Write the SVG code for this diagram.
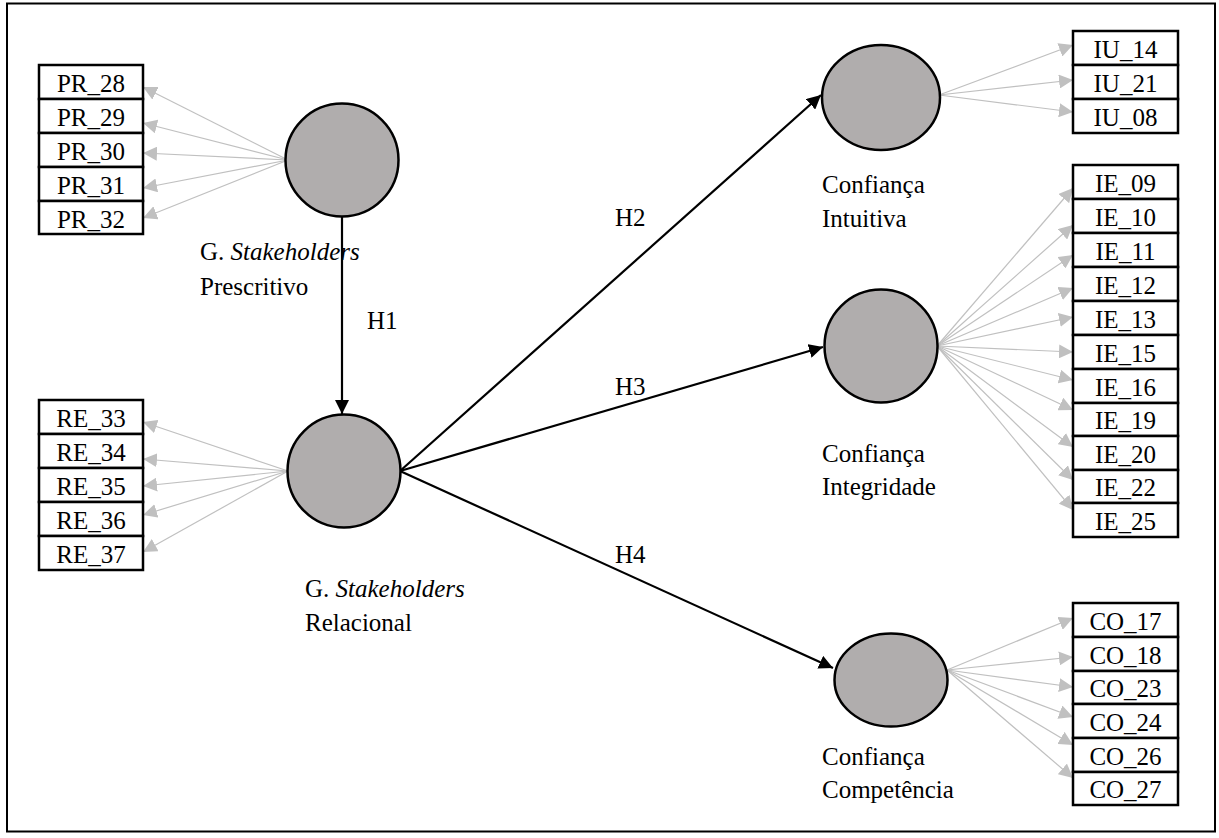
<svg xmlns="http://www.w3.org/2000/svg" width="1219" height="838" viewBox="0 0 1219 838">
  <style>
    .frame { fill: #ffffff; stroke: #000000; stroke-width: 2; }
    .latent { fill: #b0adad; stroke: #000000; stroke-width: 2.5; }
    .ind { fill: #ffffff; stroke: #000000; stroke-width: 2.5; }
    .t { font-family: "Liberation Serif", "Times New Roman", serif; font-size: 25px; fill: #000000; }
    .tc { text-anchor: middle; }
    .load { stroke: #c0c0c0; stroke-width: 1.2; fill: none; marker-end: url(#gray); }
    .path { stroke: #000000; stroke-width: 2.2; fill: none; marker-end: url(#black); }
  </style>
  <defs>
    <marker id="gray" viewBox="0 0 10 10" refX="10" refY="5" markerWidth="14" markerHeight="14" markerUnits="userSpaceOnUse" orient="auto">
      <path d="M0,0 L10,5 L0,10 z" fill="#c0c0c0"/>
    </marker>
    <marker id="black" viewBox="0 0 10 10" refX="10" refY="5" markerWidth="14" markerHeight="14" markerUnits="userSpaceOnUse" orient="auto">
      <path d="M0,0 L10,5 L0,10 z" fill="#000000"/>
    </marker>
  </defs>

  <rect class="frame" x="7" y="3.5" width="1208" height="828"/>

  <!-- loadings and structural paths -->
  <g id="connectors">
    <!-- prescriptive indicators -->
    <line class="load" x1="288" y1="160" x2="143" y2="87"/>
    <line class="load" x1="288" y1="160" x2="143" y2="123"/>
    <line class="load" x1="288" y1="160" x2="143" y2="153"/>
    <line class="load" x1="288" y1="160" x2="143" y2="188"/>
    <line class="load" x1="288" y1="160" x2="143" y2="218"/>
    <!-- relational indicators -->
    <line class="load" x1="288" y1="471" x2="143" y2="422"/>
    <line class="load" x1="288" y1="471" x2="143" y2="459"/>
    <line class="load" x1="288" y1="471" x2="143" y2="486"/>
    <line class="load" x1="288" y1="471" x2="143" y2="515"/>
    <line class="load" x1="288" y1="471" x2="143" y2="552"/>
    <!-- intuitive indicators -->
    <line class="load" x1="939" y1="95" x2="1073" y2="45"/>
    <line class="load" x1="939" y1="95" x2="1073" y2="80"/>
    <line class="load" x1="939" y1="95" x2="1073" y2="112"/>
    <!-- integrity indicators -->
    <line class="load" x1="937" y1="346" x2="1073" y2="188"/>
    <line class="load" x1="937" y1="346" x2="1073" y2="225"/>
    <line class="load" x1="937" y1="346" x2="1073" y2="255"/>
    <line class="load" x1="937" y1="346" x2="1073" y2="288"/>
    <line class="load" x1="937" y1="346" x2="1073" y2="317"/>
    <line class="load" x1="937" y1="346" x2="1073" y2="352"/>
    <line class="load" x1="937" y1="346" x2="1073" y2="380"/>
    <line class="load" x1="937" y1="346" x2="1073" y2="410"/>
    <line class="load" x1="937" y1="346" x2="1073" y2="447"/>
    <line class="load" x1="937" y1="346" x2="1073" y2="480"/>
    <line class="load" x1="937" y1="346" x2="1073" y2="510"/>
    <!-- competence indicators -->
    <line class="load" x1="947" y1="670" x2="1073" y2="618"/>
    <line class="load" x1="947" y1="670" x2="1073" y2="657"/>
    <line class="load" x1="947" y1="670" x2="1073" y2="687"/>
    <line class="load" x1="947" y1="670" x2="1073" y2="717"/>
    <line class="load" x1="947" y1="670" x2="1073" y2="745"/>
    <line class="load" x1="947" y1="670" x2="1073" y2="778"/>
    <!-- hypotheses -->
    <line class="path" x1="342" y1="217" x2="342" y2="414"/>
    <line class="path" x1="400" y1="471" x2="821" y2="95"/>
    <line class="path" x1="400" y1="471" x2="823" y2="347"/>
    <line class="path" x1="400" y1="471" x2="833" y2="668"/>
    <text class="t" x="367" y="329">H1</text>
    <text class="t" x="615" y="226">H2</text>
    <text class="t" x="615" y="395">H3</text>
    <text class="t" x="615" y="563">H4</text>
  </g>

  <g id="prescritivo">
    <circle class="latent" cx="342" cy="160" r="56.5"/>
    <text class="t" x="200" y="260">G. <tspan font-style="italic">Stakeholders</tspan></text>
    <text class="t" x="200" y="295">Prescritivo</text>
  </g>

  <g id="pr-items">
    <rect class="ind" x="39" y="65" width="104" height="34"/>
    <rect class="ind" x="39" y="99" width="104" height="34"/>
    <rect class="ind" x="39" y="133" width="104" height="34"/>
    <rect class="ind" x="39" y="167" width="104" height="34"/>
    <rect class="ind" x="39" y="201" width="104" height="33"/>
    <text class="t tc" x="91" y="92">PR_28</text>
    <text class="t tc" x="91" y="126">PR_29</text>
    <text class="t tc" x="91" y="160">PR_30</text>
    <text class="t tc" x="91" y="194">PR_31</text>
    <text class="t tc" x="91" y="228">PR_32</text>
  </g>

  <g id="relacional">
    <circle class="latent" cx="344" cy="471" r="56.5"/>
    <text class="t" x="305" y="597">G. <tspan font-style="italic">Stakeholders</tspan></text>
    <text class="t" x="305" y="631">Relacional</text>
  </g>

  <g id="re-items">
    <rect class="ind" x="39" y="400" width="104" height="34"/>
    <rect class="ind" x="39" y="434" width="104" height="34"/>
    <rect class="ind" x="39" y="468" width="104" height="34"/>
    <rect class="ind" x="39" y="502" width="104" height="34"/>
    <rect class="ind" x="39" y="536" width="104" height="34"/>
    <text class="t tc" x="91" y="427">RE_33</text>
    <text class="t tc" x="91" y="461">RE_34</text>
    <text class="t tc" x="91" y="495">RE_35</text>
    <text class="t tc" x="91" y="529">RE_36</text>
    <text class="t tc" x="91" y="563">RE_37</text>
  </g>

  <g id="intuitiva">
    <ellipse class="latent" cx="881" cy="97.5" rx="59" ry="52.5"/>
    <text class="t" x="822" y="193">Confiança</text>
    <text class="t" x="822" y="227">Intuitiva</text>
  </g>

  <g id="iu-items">
    <rect class="ind" x="1073" y="31" width="105" height="34"/>
    <rect class="ind" x="1073" y="65" width="105" height="34"/>
    <rect class="ind" x="1073" y="99" width="105" height="34"/>
    <text class="t tc" x="1125.5" y="58">IU_14</text>
    <text class="t tc" x="1125.5" y="92">IU_21</text>
    <text class="t tc" x="1125.5" y="126">IU_08</text>
  </g>

  <g id="integridade">
    <circle class="latent" cx="881" cy="346" r="56.5"/>
    <text class="t" x="822" y="462">Confiança</text>
    <text class="t" x="822" y="495">Integridade</text>
  </g>

  <g id="ie-items">
    <rect class="ind" x="1073" y="165" width="105" height="34"/>
    <rect class="ind" x="1073" y="199" width="105" height="34"/>
    <rect class="ind" x="1073" y="233" width="105" height="34"/>
    <rect class="ind" x="1073" y="267" width="105" height="34"/>
    <rect class="ind" x="1073" y="301" width="105" height="34"/>
    <rect class="ind" x="1073" y="335" width="105" height="34"/>
    <rect class="ind" x="1073" y="369" width="105" height="34"/>
    <rect class="ind" x="1073" y="403" width="105" height="33"/>
    <rect class="ind" x="1073" y="436" width="105" height="34"/>
    <rect class="ind" x="1073" y="470" width="105" height="33"/>
    <rect class="ind" x="1073" y="503" width="105" height="34"/>
    <text class="t tc" x="1125.5" y="192">IE_09</text>
    <text class="t tc" x="1125.5" y="226">IE_10</text>
    <text class="t tc" x="1125.5" y="260">IE_11</text>
    <text class="t tc" x="1125.5" y="294">IE_12</text>
    <text class="t tc" x="1125.5" y="328">IE_13</text>
    <text class="t tc" x="1125.5" y="362">IE_15</text>
    <text class="t tc" x="1125.5" y="396">IE_16</text>
    <text class="t tc" x="1125.5" y="429">IE_19</text>
    <text class="t tc" x="1125.5" y="463">IE_20</text>
    <text class="t tc" x="1125.5" y="496">IE_22</text>
    <text class="t tc" x="1125.5" y="530">IE_25</text>
  </g>

  <g id="competencia">
    <ellipse class="latent" cx="891" cy="680" rx="56.5" ry="46.5"/>
    <text class="t" x="822" y="765">Confiança</text>
    <text class="t" x="822" y="798">Competência</text>
  </g>

  <g id="co-items">
    <rect class="ind" x="1073" y="603" width="105" height="34"/>
    <rect class="ind" x="1073" y="637" width="105" height="34"/>
    <rect class="ind" x="1073" y="671" width="105" height="33"/>
    <rect class="ind" x="1073" y="704" width="105" height="34"/>
    <rect class="ind" x="1073" y="738" width="105" height="34"/>
    <rect class="ind" x="1073" y="772" width="105" height="33"/>
    <text class="t tc" x="1125.5" y="630">CO_17</text>
    <text class="t tc" x="1125.5" y="664">CO_18</text>
    <text class="t tc" x="1125.5" y="697">CO_23</text>
    <text class="t tc" x="1125.5" y="731">CO_24</text>
    <text class="t tc" x="1125.5" y="765">CO_26</text>
    <text class="t tc" x="1125.5" y="798">CO_27</text>
  </g>
</svg>
